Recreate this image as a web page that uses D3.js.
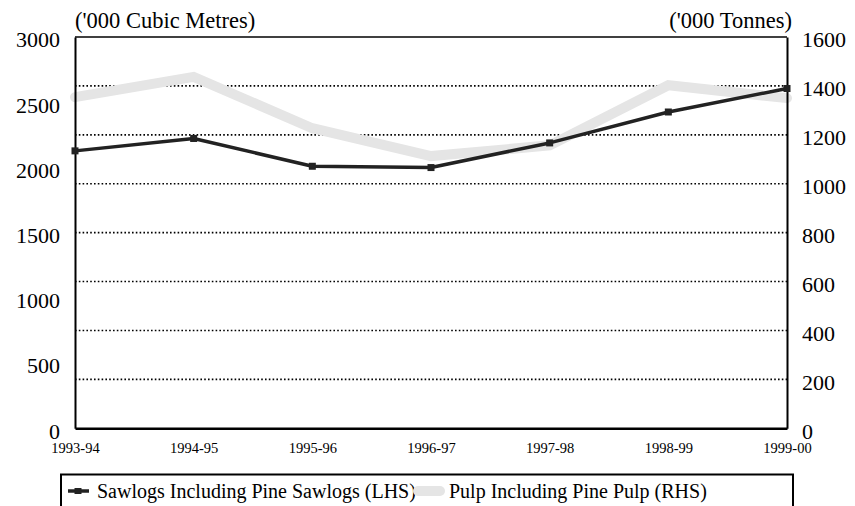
<!DOCTYPE html>
<html>
<head>
<meta charset="utf-8">
<script src="https://cdn.jsdelivr.net/npm/d3@7/dist/d3.min.js"></script>
<style>
  html, body { margin: 0; padding: 0; background: #fff; }
  svg { display: block; font-family: "Liberation Serif", "DejaVu Serif", serif; }
</style>
</head>
<body>
<svg id="chart" width="855" height="506"></svg>
<script>
const categories = ["1993-94", "1994-95", "1995-96", "1996-97", "1997-98", "1998-99", "1999-00"];
const sawlogs = [2127, 2222, 2009, 1999, 2188, 2425, 2605];   // '000 cubic metres (LHS)
const pulp = [1354, 1437, 1227, 1113, 1157, 1403, 1350];      // '000 tonnes (RHS)
const leftTicks = [0, 500, 1000, 1500, 2000, 2500, 3000];
const rightTicks = [0, 200, 400, 600, 800, 1000, 1200, 1400, 1600];
const leftTitle = "('000 Cubic Metres)";
const rightTitle = "('000 Tonnes)";
const seriesNames = ["Sawlogs Including Pine Sawlogs (LHS)", "Pulp Including Pine Pulp (RHS)"];

const svg = d3.select("#chart");
const m = { left: 75, right: 787, top: 37, bottom: 428.3 };
const FONT = "Liberation Serif";

const x = d3.scalePoint().domain(categories).range([m.left, m.right]);
const yL = d3.scaleLinear().domain([0, 3000]).range([m.bottom, m.top]);
const yR = d3.scaleLinear().domain([0, 1600]).range([m.bottom, m.top]);

// gridlines (at right-axis ticks)
svg.append("g").selectAll("line")
  .data(rightTicks.filter(d => d > 0 && d < 1600))
  .join("line")
  .attr("x1", m.left).attr("x2", m.right)
  .attr("y1", d => yR(d)).attr("y2", d => yR(d))
  .attr("stroke", "#000").attr("stroke-width", 1.6)
  .attr("stroke-dasharray", "1.6,2.2");

// pulp line
const linePulp = d3.line().x((d, i) => x(categories[i])).y(d => yR(d));
svg.append("path").datum(pulp)
  .attr("d", linePulp)
  .attr("fill", "none").attr("stroke", "#e5e5e5").attr("stroke-width", 10)
  .attr("stroke-linejoin", "miter").attr("stroke-linecap", "round");

// frame top
svg.append("line").attr("x1", m.left).attr("x2", m.right).attr("y1", m.top).attr("y2", m.top)
  .attr("stroke", "#000").attr("stroke-width", 1.6);

// axes
const fmt = d3.format("d");
const axL = d3.axisLeft(yL).tickValues(leftTicks).tickFormat(fmt).tickSize(0).tickPadding(15);
const gL = svg.append("g").attr("transform", `translate(${m.left},0)`).call(axL);
const axR = d3.axisRight(yR).tickValues(rightTicks).tickFormat(fmt).tickSize(0).tickPadding(15);
const gR = svg.append("g").attr("transform", `translate(${m.right},0)`).call(axR);
const axB = d3.axisBottom(x).tickSize(0);
const gB = svg.append("g").attr("transform", `translate(0,${m.bottom})`).call(axB);

[gL, gR].forEach(g => {
  g.select(".domain").attr("stroke", "#000").attr("stroke-width", 2);
  g.selectAll("text").attr("font-family", FONT).attr("font-size", 22)
    .attr("fill", "#000").attr("dy", "0.45em");
});
gB.select(".domain").attr("stroke", "#000").attr("stroke-width", 2.5);
gB.selectAll("text").attr("font-family", FONT).attr("font-size", 14.5)
  .attr("fill", "#000").attr("y", 24.5).attr("dy", 0);

// sawlogs line
const lineSaw = d3.line().x((d, i) => x(categories[i])).y(d => yL(d));
svg.append("path").datum(sawlogs)
  .attr("d", lineSaw)
  .attr("fill", "none").attr("stroke", "#222").attr("stroke-width", 3.5)
  .attr("stroke-linejoin", "round");
svg.append("g").selectAll("rect").data(sawlogs).join("rect")
  .attr("x", (d, i) => x(categories[i]) - 3.5).attr("y", d => yL(d) - 3.5)
  .attr("width", 7).attr("height", 7).attr("fill", "#222");

// axis titles
svg.append("text").attr("x", 75).attr("y", 28).attr("font-size", 22.5)
  .attr("font-family", FONT).text(leftTitle);
svg.append("text").attr("x", 792).attr("y", 28).attr("font-size", 22.5)
  .attr("text-anchor", "end").attr("font-family", FONT).text(rightTitle);

// legend
svg.append("rect").attr("x", 61).attr("y", 474.5).attr("width", 732).attr("height", 50)
  .attr("fill", "none").attr("stroke", "#000").attr("stroke-width", 2);
svg.append("line").attr("x1", 68).attr("x2", 89).attr("y1", 491).attr("y2", 491)
  .attr("stroke", "#222").attr("stroke-width", 3.5);
svg.append("rect").attr("x", 74.5).attr("y", 488).attr("width", 7).attr("height", 6).attr("fill", "#222");
svg.append("text").attr("x", 97).attr("y", 498).attr("font-size", 20)
  .attr("font-family", FONT).text(seriesNames[0]);
svg.append("line").attr("x1", 418).attr("x2", 440).attr("y1", 491).attr("y2", 491)
  .attr("stroke", "#e5e5e5").attr("stroke-width", 10).attr("stroke-linecap", "round");
svg.append("text").attr("x", 449).attr("y", 498).attr("font-size", 20)
  .attr("font-family", FONT).text(seriesNames[1]);
</script>
</body>
</html>
